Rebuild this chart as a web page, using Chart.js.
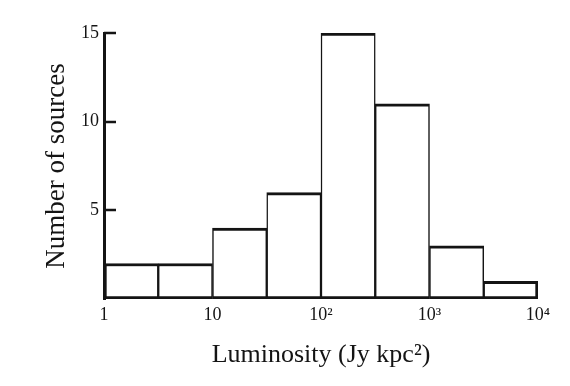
<!DOCTYPE html>
<html>
<head>
<meta charset="utf-8">
<script src="https://cdn.jsdelivr.net/npm/chart.js@4/dist/chart.umd.min.js"></script>
<style>
  html, body { margin: 0; padding: 0; background: #ffffff; }
  #wrap { width: 570px; height: 386px; }
</style>
</head>
<body>
<div id="wrap"><canvas id="c" width="570" height="386"></canvas></div>
<script>
// Histogram bins (luminosity, Jy kpc^2): lower and upper edges, half-decade wide
const binLow  = [1, 3.162, 10, 31.62, 100, 316.2, 1000, 3162];
const binHigh = [3.162, 10, 31.62, 100, 316.2, 1000, 3162, 10000];
const counts  = [2, 2, 4, 6, 15, 11, 3, 1];
const xTickValues = [0, 1, 2, 3, 4];           // log10 of luminosity
const xTickLabels = ['1', '10', '10\u00B2', '10\u00B3', '10\u2074'];
const yTickValues = [5, 10, 15];

const serif = '"Liberation Serif", "DejaVu Serif", "Times New Roman", serif';
const ink = '#141414';

const points = counts.map((c, i) => ({
  x: (Math.log10(binLow[i]) + Math.log10(binHigh[i])) / 2,
  y: c
}));

const inwardTicks = {
  id: 'inwardTicks',
  afterDraw(chart) {
    const ys = chart.scales.y;
    const left = chart.chartArea.left;
    const ctx = chart.ctx;
    ctx.save();
    ctx.strokeStyle = ink;
    ctx.lineWidth = 2.5;
    ctx.beginPath();
    yTickValues.forEach(v => {
      const py = Math.round(ys.getPixelForValue(v));
      ctx.moveTo(left, py);
      ctx.lineTo(left + 12, py);
    });
    ctx.stroke();
    ctx.restore();
  }
};

const lastIdx = counts.length - 1;

new Chart(document.getElementById('c'), {
  type: 'bar',
  data: {
    datasets: [{
      data: points,
      backgroundColor: '#ffffff',
      borderColor: ink,
      borderWidth: (ctx) => ({
        top: 3, bottom: 3,
        left: ctx.dataIndex === 0 ? 3 : 1.5,
        right: ctx.dataIndex === lastIdx ? 3 : 1.5
      }),
      borderSkipped: false,
      barPercentage: 1,
      categoryPercentage: 1
    }]
  },
  options: {
    responsive: false,
    animation: false,
    events: [],
    layout: { padding: { top: 33, right: 32, left: 0, bottom: 0 } },
    plugins: { legend: { display: false }, tooltip: { enabled: false } },
    scales: {
      x: {
        type: 'linear',
        offset: false,
        min: 0,
        max: 4,
        afterBuildTicks: s => { s.ticks = xTickValues.map(v => ({ value: v })); },
        afterFit: s => { s.height = 87; },
        grid: { display: false, drawTicks: false },
        border: { display: false },
        ticks: {
          padding: 5,
          autoSkip: false,
          maxRotation: 0,
          color: ink,
          font: { family: serif, size: 18 },
          callback: (v) => xTickLabels[xTickValues.indexOf(v)]
        },
        title: {
          display: true,
          text: 'Luminosity (Jy kpc\u00B2)',
          color: ink,
          font: { family: serif, size: 26 },
          padding: { top: 4, bottom: 15 }
        }
      },
      y: {
        min: 0,
        max: 15,
        afterBuildTicks: s => { s.ticks = yTickValues.map(v => ({ value: v })); },
        afterFit: s => { s.width = 104; },
        grid: { display: false, drawTicks: false },
        border: { display: true, color: ink, width: 3 },
        ticks: {
          padding: 5,
          color: ink,
          font: { family: serif, size: 18 }
        },
        title: {
          display: true,
          text: 'Number of sources',
          color: ink,
          font: { family: serif, size: 27 },
          padding: { top: 41, bottom: 4 }
        }
      }
    }
  },
  plugins: [inwardTicks]
});
</script>
</body>
</html>
